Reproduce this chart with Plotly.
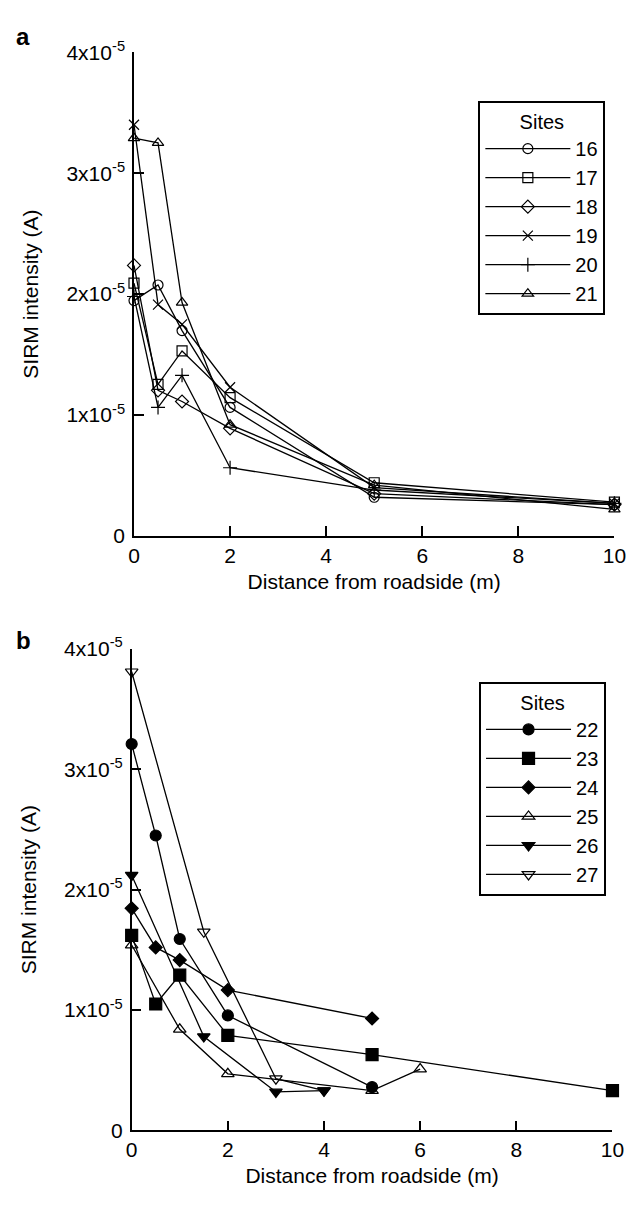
import plotly.graph_objects as go

# ---- data (SIRM intensity in units of 1e-5 A) ----
dist_a = [0, 0.5, 1, 2, 5, 10]
sites_a = ["16", "17", "18", "19", "20", "21"]
s16 = [1.946, 2.075, 1.698, 1.063, 0.32, 0.26]
s17 = [2.09, 1.253, 1.53, 1.144, 0.44, 0.28]
s18 = [2.237, 1.204, 1.112, 0.89, 0.35, 0.26]
s19 = [3.40, 1.913, 1.75, 1.23, 0.40, 0.27]
s20 = [1.98, 1.063, 1.328, 0.564, 0.38, 0.27]
s21 = [3.29, 3.25, 1.93, 0.92, 0.42, 0.22]

x22 = [0, 0.5, 1, 2, 5]
s22 = [3.21, 2.45, 1.59, 0.955, 0.36]
x23 = [0, 0.5, 1, 2, 5, 10]
s23 = [1.62, 1.05, 1.29, 0.79, 0.63, 0.33]
x24 = [0, 0.5, 1, 2, 5]
s24 = [1.845, 1.52, 1.415, 1.166, 0.93]
x25 = [0, 1, 2, 5, 6]
s25 = [1.54, 0.84, 0.47, 0.33, 0.51]
x26 = [0, 1.5, 3, 4]
s26 = [2.12, 0.78, 0.32, 0.33]
x27 = [0, 1.5, 3, 4]
s27 = [3.81, 1.65, 0.43, 0.33]

x_ticks = [0, 2, 4, 6, 8, 10]
y_ticks = [0, 1e-5, 2e-5, 3e-5, 4e-5]
y_ticktext = ["0", "1x10<sup>-5</sup>", "2x10<sup>-5</sup>", "3x10<sup>-5</sup>", "4x10<sup>-5</sup>"]

SCALE = 1e-5
FONT = "Liberation Sans, Arial, sans-serif"
FS = 21

fig = go.Figure()

series_a = [
    ("16", s16, "circle-open"),
    ("17", s17, "square-open"),
    ("18", s18, "diamond-open"),
    ("19", s19, "x-thin-open"),
    ("20", s20, "cross-thin-open"),
    ("21", s21, "triangle-up-open"),
]
for name, vals, sym in series_a:
    fig.add_trace(go.Scatter(
        x=dist_a, y=[v * SCALE for v in vals], name=name, mode="lines+markers",
        line=dict(color="black", width=1.3),
        marker=dict(symbol=sym, size=10, color="black", line=dict(color="black", width=1.2)),
        cliponaxis=False, xaxis="x", yaxis="y", legend="legend",
    ))

series_b = [
    ("22", x22, s22, "circle", 11),
    ("23", x23, s23, "square", 12),
    ("24", x24, s24, "diamond", 10),
    ("25", x25, s25, "triangle-up-open", 11),
    ("26", x26, s26, "triangle-down", 11),
    ("27", x27, s27, "triangle-down-open", 11),
]
for name, xs, vals, sym, sz in series_b:
    fig.add_trace(go.Scatter(
        x=xs, y=[v * SCALE for v in vals], name=name, mode="lines+markers",
        line=dict(color="black", width=1.3),
        marker=dict(symbol=sym, size=sz, color="black", line=dict(color="black", width=1.2)),
        cliponaxis=False, xaxis="x2", yaxis="y2", legend="legend2",
    ))

axis_common = dict(
    showline=True, linecolor="black", linewidth=1.5,
    ticks="inside", ticklen=10, tickwidth=1.5, tickcolor="black",
    showgrid=False, zeroline=False,
    tickfont=dict(family=FONT, size=FS, color="black"),
)
ytitle = dict(text="SIRM intensity (A)", font=dict(size=FS), standoff=22)
xtitle = dict(text="Distance from roadside (m)", font=dict(size=FS), standoff=8)
legend_common = dict(
    xanchor="left", yanchor="top", bordercolor="black", borderwidth=2, bgcolor="white",
    title=dict(text="Sites", side="top center", font=dict(size=20)),
    font=dict(size=20), itemwidth=85, tracegroupgap=0,
)

fig.update_layout(
    width=641, height=1209,
    margin=dict(l=0, r=0, t=0, b=0),
    paper_bgcolor="white", plot_bgcolor="white",
    font=dict(family=FONT, size=FS, color="black"),
    xaxis=dict(domain=[131.7 / 641, 626 / 641], anchor="y", range=[0, 10],
               tickvals=x_ticks, title=xtitle, **axis_common),
    yaxis=dict(domain=[1 - 533 / 1209, 1 - 39 / 1209], anchor="x", range=[0, 4e-5],
               tickvals=y_ticks, ticktext=y_ticktext, ticklabelstandoff=3,
               title=ytitle, **axis_common),
    xaxis2=dict(domain=[129.3 / 641, 624 / 641], anchor="y2", range=[0, 10],
                tickvals=x_ticks, title=xtitle, **axis_common),
    yaxis2=dict(domain=[1 - 1140 / 1209, 1 - 648.3 / 1209], anchor="x2", range=[0, 4e-5],
                tickvals=y_ticks, ticktext=y_ticktext, ticklabelstandoff=3,
                title=ytitle, **axis_common),
    legend=dict(x=486 / 641, y=1 - 89 / 1209, **legend_common),
    legend2=dict(x=486.7 / 641, y=1 - 682 / 1209, **legend_common),
    annotations=[
        dict(text="<b>a</b>", x=18 / 641, y=1 - 23 / 1209, xref="paper", yref="paper",
             showarrow=False, font=dict(size=24, family=FONT), xanchor="center", yanchor="middle"),
        dict(text="<b>b</b>", x=18 / 641, y=1 - 640 / 1209, xref="paper", yref="paper",
             showarrow=False, font=dict(size=24, family=FONT), xanchor="center", yanchor="middle"),
    ],
)

fig.write_html("out.html")
